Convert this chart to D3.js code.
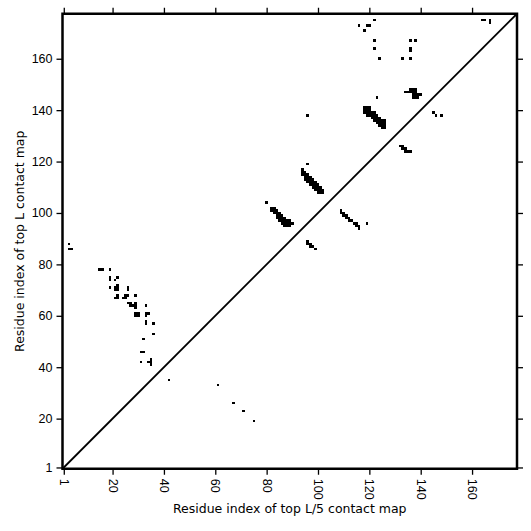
<!DOCTYPE html>
<html>
<head>
<meta charset="utf-8">
<script src="https://cdn.jsdelivr.net/npm/d3@7/dist/d3.min.js"></script>
<style>
	body { margin: 0; background: #fff; }
	svg { display: block; font-family: "DejaVu Sans", sans-serif; }
</style>
</head>
<body>
<svg id="chart" width="531" height="531"></svg>
<script>

// residue range of the map (imshow style cells, centered on integers)
var residueDomain = [0.5, 177.5];
var tickValues = [1, 20, 40, 60, 80, 100, 120, 140, 160];

// contacts as [residue on x, residue on y]
// above the diagonal
var strandContacts = [
	[3,88],[3,86],[4,86],
	[15,78],[16,78],[19,78],
	[19,75],[19,74],[22,75],[21,74],
	[19,71],[21,71],[22,71],[22,72],[21,70],[22,70],
	[26,71],[26,70],
	[21,67],[22,67],[22,68],
	[25,68],[26,68],[24,67],[25,67],[29,68],
	[26,65],[27,65],[27,64],
	[29,65],[28,64],[29,64],[29,63],
	[33,64],
	[29,61],[30,61],[29,60],[30,60],
	[33,61],[34,61],[33,60],
	[33,58],[33,57],
	[36,57],[36,53],[32,51],
	[31,46],[32,46],
	[31,42],[34,42],[35,43],[35,42],[35,41]
];

var helixBandA = [
	[80,104],
	[82,102],[82,101],
	[83,102],[83,101],[83,100],
	[84,101],[84,100],[84,99],[84,98],
	[85,100],[85,99],[85,98],[85,97],
	[86,99],[86,98],[86,97],[86,96],
	[87,98],[87,97],[87,96],[87,95],
	[88,97],[88,96],[88,95],
	[89,97],[89,96],[89,95],
	[90,96]
];

var helixBandB = [
	[96,138],[96,119],
	[94,117],[94,116],[94,115],
	[95,116],[95,115],[95,114],[95,113],
	[96,115],[96,114],[96,113],[96,112],
	[97,114],[97,113],[97,112],[97,111],
	[98,113],[98,112],[98,111],[98,110],
	[99,112],[99,111],[99,110],[99,109],
	[100,111],[100,110],[100,109],[100,108],
	[101,110],[101,109],[101,108],
	[102,109],[102,108]
];

var helixBandC = [
	[118,141],[118,140],[118,139],
	[119,141],[119,140],[119,139],[119,138],
	[120,141],[120,140],[120,139],[120,138],
	[121,139],[121,138],[121,137],
	[122,139],[122,138],[122,137],[122,136],
	[123,138],[123,137],[123,136],[123,135],
	[124,137],[124,136],[124,135],[124,134],
	[125,136],[125,135],[125,134],[125,133],
	[126,136],[126,135],[126,134],[126,133],
	[123,145],
	[136,148],[137,148],[138,148],
	[134,147],[135,147],[136,147],[137,147],[138,147],
	[137,146],[138,146],[139,146],[140,146],
	[137,145],[138,145],[139,145]
];

var topContacts = [
	[116,173],[119,173],[120,173],[118,171],[122,175],
	[122,167],[122,164],[124,160],
	[136,167],[138,167],[136,164],[136,163],[133,160],[136,160],
	[164,175],[165,175],[167,175],[167,174]
];

// below the diagonal
var lowerContacts = [
	[42,35],[61,33],[67,26],[71,23],[75,19],
	[96,89],[96,88],[97,88],[97,87],[98,87],[99,86],
	[109,101],[109,100],[110,100],[110,99],[111,99],[111,98],[112,98],
	[112,97],[113,97],[114,96],[115,96],[115,95],[116,95],[116,94],[119,96],
	[132,126],[133,126],[133,125],[134,125],[134,124],[135,124],[136,124],
	[145,139],[146,138],[148,138]
];

var contacts = strandContacts.concat(helixBandA, helixBandB, helixBandC, topContacts, lowerContacts);

var svg = d3.select("#chart");
var plot = { left: 62.5, top: 13.75, right: 517, bottom: 468.75 };

var x = d3.scaleLinear().domain(residueDomain).range([plot.left, plot.right]);
var y = d3.scaleLinear().domain(residueDomain).range([plot.bottom, plot.top]);

svg.append("rect")
	.attr("width", 531).attr("height", 531)
	.attr("fill", "#fff");

// contact cells
svg.append("g")
	.attr("shape-rendering", "crispEdges")
	.selectAll("rect")
	.data(contacts)
	.enter().append("rect")
	.attr("x", function(d) { return x(d[0] - 0.5); })
	.attr("y", function(d) { return y(d[1] + 0.5); })
	.attr("width", function(d) { return x(d[0] + 0.5) - x(d[0] - 0.5); })
	.attr("height", function(d) { return y(d[1] - 0.5) - y(d[1] + 0.5); })
	.attr("fill", "#000");

// diagonal
svg.append("line")
	.attr("x1", x(residueDomain[0])).attr("y1", y(residueDomain[0]))
	.attr("x2", x(residueDomain[1])).attr("y2", y(residueDomain[1]))
	.attr("stroke", "#000")
	.attr("stroke-width", 1.8);

// axes
var tickLen = 6;

function styleAxis(g) {
	g.select(".domain").remove();
	g.selectAll(".tick line").attr("stroke", "#000").attr("stroke-width", 1.3);
	g.selectAll(".tick text").attr("fill", "#000").style("font-size", "12.5px");
}

svg.append("g")
	.attr("transform", "translate(0," + plot.bottom + ")")
	.call(d3.axisBottom(x).tickValues(tickValues).tickSize(tickLen).tickFormat(d3.format("d")))
	.call(styleAxis)
	.selectAll(".tick text")
	.attr("transform", "rotate(90)")
	.attr("x", 10)
	.attr("y", 0)
	.attr("dy", "0.35em")
	.attr("text-anchor", "start");

svg.append("g")
	.attr("transform", "translate(" + plot.left + ",0)")
	.call(d3.axisLeft(y).tickValues(tickValues).tickSize(tickLen).tickPadding(4).tickFormat(d3.format("d")))
	.call(styleAxis);

svg.append("g")
	.attr("transform", "translate(0," + plot.top + ")")
	.call(d3.axisTop(x).tickValues(tickValues).tickSize(tickLen).tickFormat(""))
	.call(styleAxis);

svg.append("g")
	.attr("transform", "translate(" + plot.right + ",0)")
	.call(d3.axisRight(y).tickValues(tickValues).tickSize(tickLen).tickFormat(""))
	.call(styleAxis);

// frame
svg.append("rect")
	.attr("x", plot.left).attr("y", plot.top)
	.attr("width", plot.right - plot.left)
	.attr("height", plot.bottom - plot.top)
	.attr("fill", "none")
	.attr("stroke", "#000")
	.attr("stroke-width", 2.5);

// axis titles
svg.append("text")
	.attr("x", (plot.left + plot.right) / 2)
	.attr("y", 513)
	.attr("text-anchor", "middle")
	.style("font-size", "12.5px")
	.text("Residue index of top L/5 contact map");

svg.append("text")
	.attr("transform", "translate(24," + (plot.top + plot.bottom) / 2 + ") rotate(-90)")
	.attr("text-anchor", "middle")
	.style("font-size", "12.5px")
	.text("Residue index of top L contact map");

</script>
</body>
</html>
